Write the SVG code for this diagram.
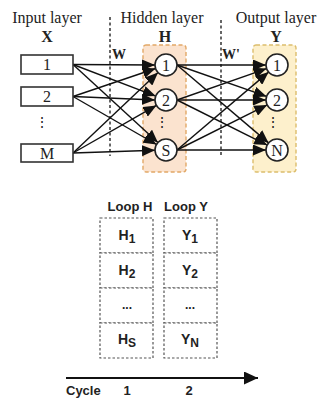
<svg xmlns="http://www.w3.org/2000/svg" width="320" height="401" viewBox="0 0 320 401">
<style>
.serif{font-family:"Liberation Serif","Times New Roman",serif;fill:#222}
.sans{font-family:"Liberation Sans",Arial,sans-serif;font-weight:bold;fill:#222}
.box{fill:#fff;stroke:#333;stroke-width:1.6}
.node{fill:#fff;stroke:#222;stroke-width:1.6}
.conn{stroke:#111;stroke-width:1.4;fill:none}
.vd{stroke:#333;stroke-width:1.5;stroke-dasharray:3,2.5}
.cell{fill:#fff;stroke:#555;stroke-width:1.2;stroke-dasharray:2.5,2}
</style>
<defs>
<marker id="ah" markerUnits="userSpaceOnUse" markerWidth="14" markerHeight="11" refX="13" refY="5.5" orient="auto">
<path d="M0,0 L13,5.5 L0,11 z" fill="#111"/>
</marker>
<marker id="ah2" markerUnits="userSpaceOnUse" markerWidth="15" markerHeight="13" refX="14" refY="6.5" orient="auto">
<path d="M0,0 L14,6.5 L0,13 z" fill="#111"/>
</marker>
</defs>
<rect width="320" height="401" fill="#fff"/>

<g id="layer-bg">
<rect x="143" y="45" width="43" height="127" rx="3" fill="#fbe3cf" stroke="#e2a867" stroke-width="1.4" stroke-dasharray="4,2.5"/>
<rect x="253" y="45" width="43" height="127" rx="3" fill="#fdf0cc" stroke="#dcbd6c" stroke-width="1.4" stroke-dasharray="4,2.5"/>
</g>

<g id="headers">
<text class="serif" x="47" y="23" font-size="16" text-anchor="middle">Input layer</text>
<text class="serif" x="47" y="42" font-size="16" font-weight="bold" text-anchor="middle">X</text>
<text class="serif" x="162" y="23" font-size="16" text-anchor="middle">Hidden layer</text>
<text class="serif" x="165" y="42" font-size="16" font-weight="bold" text-anchor="middle">H</text>
<text class="serif" x="276" y="23" font-size="16" text-anchor="middle">Output layer</text>
<text class="serif" x="276" y="42" font-size="16" font-weight="bold" text-anchor="middle">Y</text>
<text class="serif" x="112" y="59" font-size="14" font-weight="bold">W</text>
<text class="serif" x="222" y="59" font-size="14" font-weight="bold">W'</text>
</g>

<g id="dividers">
<line class="vd" x1="110" y1="17" x2="110" y2="156"/>
<line class="vd" x1="221" y1="20" x2="221" y2="156"/>
</g>

<g id="connectors">
<line class="conn" x1="73" y1="64.5" x2="155" y2="65" marker-end="url(#ah)"/>
<line class="conn" x1="73" y1="64.5" x2="155.7" y2="96.1" marker-end="url(#ah)"/>
<line class="conn" x1="73" y1="64.5" x2="157.9" y2="142.6" marker-end="url(#ah)"/>
<line class="conn" x1="73" y1="96.5" x2="155.6" y2="68.5" marker-end="url(#ah)"/>
<line class="conn" x1="73" y1="96.5" x2="155" y2="100" marker-end="url(#ah)"/>
<line class="conn" x1="73" y1="96.5" x2="156.5" y2="144.5" marker-end="url(#ah)"/>
<line class="conn" x1="73" y1="153" x2="158" y2="72.6" marker-end="url(#ah)"/>
<line class="conn" x1="73" y1="153" x2="156.4" y2="105.4" marker-end="url(#ah)"/>
<line class="conn" x1="73" y1="153" x2="155" y2="150.3" marker-end="url(#ah)"/>
<line class="conn" x1="177" y1="65" x2="266" y2="65" marker-end="url(#ah)"/>
<line class="conn" x1="177" y1="65" x2="266.6" y2="96.4" marker-end="url(#ah)"/>
<line class="conn" x1="177" y1="65" x2="268.6" y2="142.9" marker-end="url(#ah)"/>
<line class="conn" x1="177" y1="100" x2="266.6" y2="68.6" marker-end="url(#ah)"/>
<line class="conn" x1="177" y1="100" x2="266" y2="100" marker-end="url(#ah)"/>
<line class="conn" x1="177" y1="100" x2="267.2" y2="145.1" marker-end="url(#ah)"/>
<line class="conn" x1="177" y1="150" x2="268.6" y2="72.1" marker-end="url(#ah)"/>
<line class="conn" x1="177" y1="150" x2="267.2" y2="104.9" marker-end="url(#ah)"/>
<line class="conn" x1="177" y1="150" x2="266" y2="150" marker-end="url(#ah)"/>
</g>

<g id="in1"><rect class="box" x="21" y="55" width="52" height="19"/><text class="serif" x="47" y="70" font-size="16" text-anchor="middle">1</text></g>
<g id="in2"><rect class="box" x="21" y="87" width="52" height="19"/><text class="serif" x="47" y="102" font-size="16" text-anchor="middle">2</text></g>
<g id="in-dots"><text class="serif" x="42" y="127" font-size="14" text-anchor="middle" font-family="DejaVu Serif">⋮</text></g>
<g id="inM"><rect class="box" x="21" y="144" width="52" height="18"/><text class="serif" x="47" y="158.5" font-size="16" text-anchor="middle">M</text></g>

<g id="h1"><circle class="node" cx="166" cy="65" r="11"/><text class="serif" x="166" y="70.5" font-size="16" text-anchor="middle">1</text></g>
<g id="h2"><circle class="node" cx="166" cy="100" r="11"/><text class="serif" x="166" y="105.5" font-size="16" text-anchor="middle">2</text></g>
<g id="h-dots"><text class="serif" x="162" y="127" font-size="14" text-anchor="middle" font-family="DejaVu Serif">⋮</text></g>
<g id="hS"><circle class="node" cx="166" cy="150" r="11"/><text class="serif" x="166" y="155.5" font-size="16" text-anchor="middle">S</text></g>

<g id="y1"><circle class="node" cx="277" cy="65" r="11"/><text class="serif" x="277" y="70.5" font-size="16" text-anchor="middle">1</text></g>
<g id="y2"><circle class="node" cx="277" cy="100" r="11"/><text class="serif" x="277" y="105.5" font-size="16" text-anchor="middle">2</text></g>
<g id="y-dots"><text class="serif" x="273" y="127" font-size="14" text-anchor="middle" font-family="DejaVu Serif">⋮</text></g>
<g id="yN"><circle class="node" cx="277" cy="150" r="11"/><text class="serif" x="277" y="155.5" font-size="16" text-anchor="middle">N</text></g>

<g id="loopH">
<text class="sans" x="130" y="211" font-size="13" text-anchor="middle">Loop H</text>
<rect class="cell" x="100" y="218" width="53" height="35"/>
<rect class="cell" x="100" y="253" width="53" height="35"/>
<rect class="cell" x="100" y="288" width="53" height="35"/>
<rect class="cell" x="100" y="323" width="53" height="35"/>
<text class="sans" x="127" y="240" font-size="14" text-anchor="middle">H<tspan font-size="12" dy="3">1</tspan></text>
<text class="sans" x="127" y="275" font-size="14" text-anchor="middle">H<tspan font-size="12" dy="3">2</tspan></text>
<text class="sans" x="127" y="309" font-size="12" text-anchor="middle">...</text>
<text class="sans" x="127" y="344" font-size="14" text-anchor="middle">H<tspan font-size="12" dy="3">S</tspan></text>
</g>

<g id="loopY">
<text class="sans" x="186" y="211" font-size="13" text-anchor="middle">Loop Y</text>
<rect class="cell" x="164" y="218" width="53" height="35"/>
<rect class="cell" x="164" y="253" width="53" height="35"/>
<rect class="cell" x="164" y="288" width="53" height="35"/>
<rect class="cell" x="164" y="323" width="53" height="35"/>
<text class="sans" x="190" y="240" font-size="14" text-anchor="middle">Y<tspan font-size="12" dy="3">1</tspan></text>
<text class="sans" x="190" y="275" font-size="14" text-anchor="middle">Y<tspan font-size="12" dy="3">2</tspan></text>
<text class="sans" x="190" y="309" font-size="12" text-anchor="middle">...</text>
<text class="sans" x="190" y="344" font-size="14" text-anchor="middle">Y<tspan font-size="12" dy="3">N</tspan></text>
</g>

<g id="cycle">
<line x1="66" y1="378" x2="258" y2="378" stroke="#111" stroke-width="2.2" marker-end="url(#ah2)"/>
<text class="sans" x="66" y="395" font-size="13">Cycle</text>
<text class="sans" x="127" y="395" font-size="13" text-anchor="middle">1</text>
<text class="sans" x="189" y="395" font-size="13" text-anchor="middle">2</text>
</g>
</svg>
